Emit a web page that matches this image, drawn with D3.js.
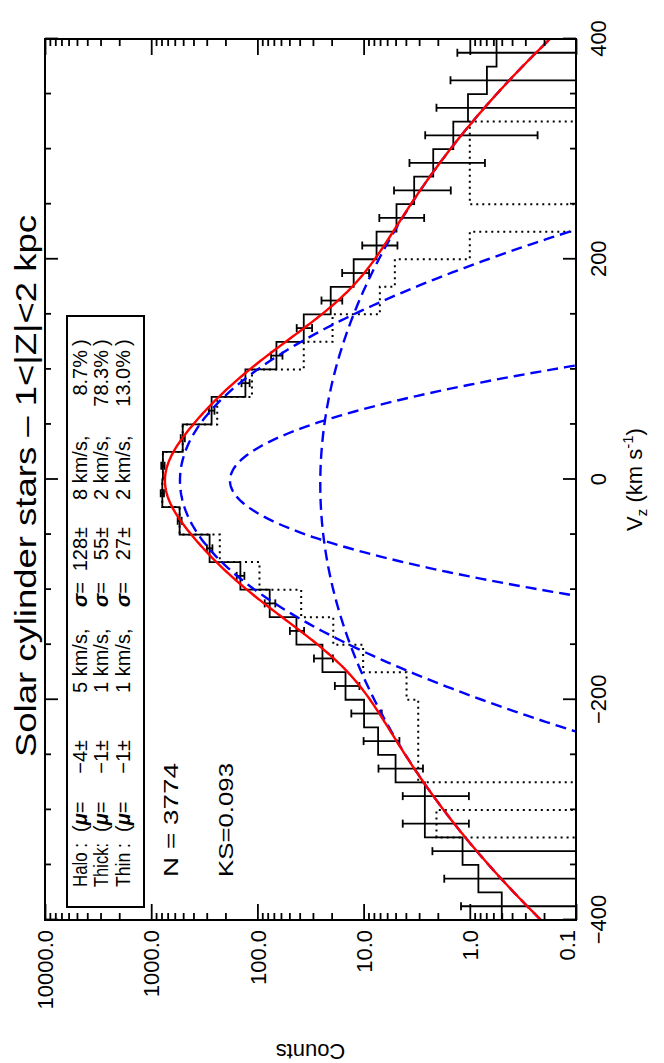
<!DOCTYPE html>
<html>
<head>
<meta charset="utf-8">
<script src="https://cdn.jsdelivr.net/npm/d3@7"></script>
<style>
  body { margin: 0; background: #fff; }
  svg text { font-family: "Liberation Sans", Arial, sans-serif; fill: #000; }
</style>
</head>
<body>
<div id="chart"></div>
<script>
// histogram bins (lower edge, km/s), bin width 25
const binStart = [-400, -375, -350, -325, -300, -275, -250, -225, -200, -175, -150, -125, -100, -75, -50, -25,
                  0, 25, 50, 75, 100, 125, 150, 175, 200, 225, 250, 275, 300, 325, 350, 375]
const binWidth = 25

// observed counts (solid) and their errors
const counts = [0.50, 0.83, 1.17, 2.65, 2.65, 5.0, 7.3, 9.9, 14.8, 24.4, 42.9, 76.6, 144.6, 282, 540, 786,
                776, 505, 270, 129.7, 66.2, 36.6, 20.4, 12.4, 7.55, 4.9, 3.34, 2.21, 1.43, 1.04, 0.69, 0.56]
const countErr = [0.71, 0.91, 1.08, 1.63, 1.63, 2.24, 2.70, 3.15, 3.85, 4.94, 6.55, 8.75, 12.0, 16.8, 23.2, 28.0,
                  27.9, 22.5, 16.4, 11.4, 8.14, 6.05, 4.52, 3.52, 2.75, 2.21, 1.83, 1.49, 1.20, 1.02, 0.83, 0.75]
// dotted histogram
const dotted = [0, 0, 0, 2.06, 0, 3.06, 3.06, 3.06, 3.94, 10.1, 19.3, 38.7, 95.6, 226, 540, 786,
                776, 505, 239, 112.5, 36.6, 19.6, 7.03, 5.08, 1.0, 0, 1.0, 1.0, 1.0, 0, 0, 0]

// fitted components
const compLabel = ['Halo :', 'Thick:', 'Thin :']
const compMu = [-4, -1, -1]
const compMuErr = [5, 1, 1]
const compSigma = [128, 55, 27]
const compSigmaErr = [8, 2, 2]
const compFrac = [8.7, 78.3, 13.0]
const nStars = 3774
const ksValue = 0.093

const vTicks = [-400, -200, 0, 200, 400]
const vMinor = [-350, -300, -250, -150, -100, -50, 50, 100, 150, 250, 300, 350]
const cTicks = [0.1, 1, 10, 100, 1000, 10000]
const cTickLabels = ['0.1', '1.0', '10.0', '100.0', '1000.0', '10000.0']

// plot is drawn in normal orientation, then turned 90 deg to the left
const W = 881
const H = 531

const svg = d3.select('#chart').append('svg')
    .attr('width', 664)
    .attr('height', 1063)

const g = svg.append('g')
    .attr('transform', 'translate(45, 920) rotate(-90)')

const x = d3.scaleLinear().domain([-400, 400]).range([0, W])
const y = d3.scaleLog().domain([0.1, 10000]).range([H, 0])
const yc = v => y(Math.max(v, 0.1))

g.append('clipPath').attr('id', 'clip')
    .append('rect').attr('width', W).attr('height', H)

const plot = g.append('g').attr('clip-path', 'url(#clip)')

const step = d3.line()
    .x(d => x(d[0]))
    .y(d => yc(d[1]))
    .curve(d3.curveStepAfter)

const stepPts = vals => binStart.map((b, i) => [b, vals[i]]).concat([[400, vals[vals.length - 1]]])

plot.append('path')
    .attr('d', step(stepPts(dotted)))
    .attr('fill', 'none')
    .attr('stroke', '#000')
    .attr('stroke-width', 2)
    .attr('stroke-dasharray', '2,4')

plot.append('path')
    .attr('d', step(stepPts(counts)))
    .attr('fill', 'none')
    .attr('stroke', '#000')
    .attr('stroke-width', 1.8)

// error bars
const eb = plot.append('g').attr('stroke', '#000').attr('stroke-width', 1.8)
counts.forEach((c, i) => {
    const cx = x(binStart[i] + binWidth / 2)
    const lo = c - countErr[i]
    const hi = c + countErr[i]
    eb.append('line').attr('x1', cx).attr('x2', cx).attr('y1', yc(lo)).attr('y2', yc(hi))
    eb.append('line').attr('x1', cx - 4).attr('x2', cx + 4).attr('y1', yc(hi)).attr('y2', yc(hi))
    if (lo > 0.1) {
        eb.append('line').attr('x1', cx - 4).attr('x2', cx + 4).attr('y1', yc(lo)).attr('y2', yc(lo))
    }
})

// gaussian model from the fitted parameters
const vGrid = d3.range(-400, 400.1, 2)
const gauss = (v, k) => nStars * compFrac[k] / 100 * binWidth / (compSigma[k] * Math.sqrt(2 * Math.PI)) *
    Math.exp(-((v - compMu[k]) ** 2) / (2 * compSigma[k] ** 2))

const curve = d3.line().x(d => x(d[0])).y(d => y(d[1]))

compMu.forEach((m, k) => {
    plot.append('path')
        .attr('d', curve(vGrid.map(v => [v, gauss(v, k)])))
        .attr('fill', 'none')
        .attr('stroke', '#0000ff')
        .attr('stroke-width', 2.4)
        .attr('stroke-dasharray', '11,6')
})

plot.append('path')
    .attr('d', curve(vGrid.map(v => [v, gauss(v, 0) + gauss(v, 1) + gauss(v, 2)])))
    .attr('fill', 'none')
    .attr('stroke', '#ff0000')
    .attr('stroke-width', 2.4)

// axes, ticks pointing inward on all four sides
const styleAxis = sel => {
    sel.select('.domain').remove()
    sel.selectAll('.tick line').attr('stroke', '#000').attr('stroke-width', 1.8)
}

const xb = g.append('g').attr('transform', `translate(0, ${H})`)
    .call(d3.axisBottom(x).tickValues(vTicks).tickSize(-13)
        .tickFormat(d => d < 0 ? '\u2212' + Math.abs(d) : d))
    .call(styleAxis)
xb.selectAll('text').attr('y', 30).attr('dy', 0).style('font-size', '22px')

g.append('g').attr('transform', `translate(0, ${H})`)
    .call(d3.axisBottom(x).tickValues(vMinor).tickSize(-6).tickFormat(''))
    .call(styleAxis)
g.append('g')
    .call(d3.axisTop(x).tickValues(vTicks).tickSize(-13).tickFormat(''))
    .call(styleAxis)
g.append('g')
    .call(d3.axisTop(x).tickValues(vMinor).tickSize(-6).tickFormat(''))
    .call(styleAxis)

const cMinor = []
cTicks.slice(0, -1).forEach(t => [2, 3, 4, 5, 6, 7, 8, 9].forEach(m => cMinor.push(t * m)))

const yl = g.append('g')
    .call(d3.axisLeft(y).tickValues(cTicks).tickSize(-16).tickPadding(10)
        .tickFormat((d, i) => cTickLabels[i]))
    .call(styleAxis)
yl.selectAll('text').style('font-size', '22px')
    .attr('dy', (d, i) => i === 0 ? '-0.05em' : '0.35em')

g.append('g')
    .call(d3.axisLeft(y).tickValues(cMinor).tickSize(-7).tickFormat(''))
    .call(styleAxis)
g.append('g').attr('transform', `translate(${W}, 0)`)
    .call(d3.axisRight(y).tickValues(cTicks).tickSize(-16).tickFormat(''))
    .call(styleAxis)
g.append('g').attr('transform', `translate(${W}, 0)`)
    .call(d3.axisRight(y).tickValues(cMinor).tickSize(-7).tickFormat(''))
    .call(styleAxis)

g.append('rect')
    .attr('width', W).attr('height', H)
    .attr('fill', 'none').attr('stroke', '#000').attr('stroke-width', 2)

// title and axis labels
g.append('text')
    .attr('x', 163).attr('y', -9)
    .attr('textLength', 542).attr('lengthAdjust', 'spacingAndGlyphs')
    .style('font-size', '29px')
    .text('Solar cylinder stars \u2013 1<|Z|<2 kpc')

const xl = g.append('text')
    .attr('x', W / 2).attr('y', H + 66)
    .attr('text-anchor', 'middle')
    .style('font-size', '22px')
xl.append('tspan').text('V')
xl.append('tspan').attr('dy', 5).style('font-size', '15px').text('z')
xl.append('tspan').attr('dy', -5).text(' (km s')
xl.append('tspan').attr('dy', -9).style('font-size', '15px').text('-1')
xl.append('tspan').attr('dy', 9).text(')')

g.append('text')
    .attr('transform', `translate(-124, ${H / 2}) rotate(-90)`)
    .attr('text-anchor', 'middle')
    .style('font-size', '22px')
    .text('Counts')

// legend box
g.append('rect')
    .attr('x', 13).attr('y', 22).attr('width', 591).attr('height', 77)
    .attr('fill', 'none').attr('stroke', '#000').attr('stroke-width', 2)

const rowY = [42, 63, 85]
const fmtSigned = v => (v < 0 ? '\u2212' : '') + Math.abs(v)
compLabel.forEach((lab, k) => {
    const row = g.append('g').style('font-size', '20px')
    const yy = rowY[k]
    row.append('text').attr('x', 33).attr('y', yy)
        .attr('textLength', 44).attr('lengthAdjust', 'spacingAndGlyphs').text(lab)
    const mt = row.append('text').attr('x', 88).attr('y', yy)
    mt.append('tspan').text('(')
    mt.append('tspan').style('font-style', 'italic').style('font-weight', 'bold').text('\u03bc')
    mt.append('tspan').text('=')
    row.append('text').attr('x', 180).attr('y', yy).attr('text-anchor', 'end')
        .text(fmtSigned(compMu[k]) + '\u00b1')
    row.append('text').attr('x', 227).attr('y', yy).text(compMuErr[k] + ' km/s,')
    const st = row.append('text').attr('x', 313).attr('y', yy)
    st.append('tspan').style('font-style', 'italic').style('font-weight', 'bold').text('\u03c3')
    st.append('tspan').text('=')
    row.append('text').attr('x', 393).attr('y', yy).attr('text-anchor', 'end')
        .text(compSigma[k] + '\u00b1')
    row.append('text').attr('x', 420).attr('y', yy).text(compSigmaErr[k] + ' km/s,')
    row.append('text').attr('x', 570).attr('y', yy).attr('text-anchor', 'end')
        .text(compFrac[k].toFixed(1) + '%')
    row.append('text').attr('x', 574).attr('y', yy).text(')')
})

g.append('text').attr('x', 43).attr('y', 133)
    .attr('textLength', 114).attr('lengthAdjust', 'spacingAndGlyphs')
    .style('font-size', '21px')
    .text('N =  ' + nStars)
g.append('text').attr('x', 43).attr('y', 188)
    .attr('textLength', 114).attr('lengthAdjust', 'spacingAndGlyphs')
    .style('font-size', '21px')
    .text('KS=' + ksValue.toFixed(3))
</script>
</body>
</html>
